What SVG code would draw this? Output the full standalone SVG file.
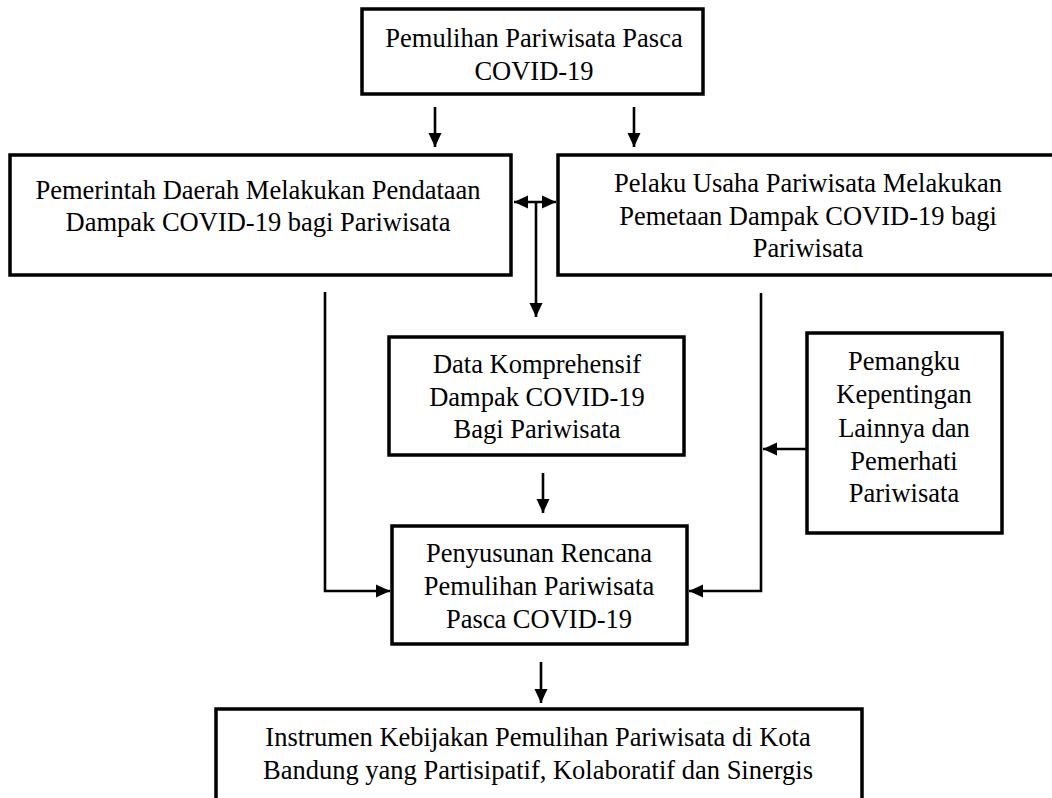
<svg xmlns="http://www.w3.org/2000/svg" width="1052" height="798" viewBox="0 0 1052 798">
<defs>
<marker id="ah" markerUnits="userSpaceOnUse" markerWidth="15" markerHeight="14" refX="14" refY="7" orient="auto-start-reverse">
<path d="M0,0.5 L14,7 L0,13.5 z" fill="#000"/>
</marker>
<style>
.box{fill:#fff;stroke:#000;stroke-width:3.5}
.t{font-family:"Liberation Serif","Times New Roman",serif;font-size:26.5px;fill:#000;text-anchor:middle}
.c{fill:none;stroke:#000;stroke-width:2.6;marker-end:url(#ah)}
.p{fill:none;stroke:#000;stroke-width:2.6}
</style>
</defs>
<rect width="1052" height="798" fill="#fff"/>
<g id="connectors">
<line class="c" x1="435" y1="107" x2="435" y2="147"/>
<line class="c" x1="634" y1="107" x2="634" y2="147"/>
<line class="c" x1="514" y1="202" x2="556" y2="202" style="marker-start:url(#ah)"/>
<line class="c" x1="536" y1="202" x2="536" y2="317"/>
<line class="c" x1="543" y1="473" x2="543" y2="513"/>
<polyline class="c" points="325,292 325,591 390,591"/>
<polyline class="c" points="761,293 761,591 689,591"/>
<line class="c" x1="807" y1="449" x2="763" y2="449"/>
<line class="c" x1="541" y1="662" x2="541" y2="703"/>
</g>
<g id="n-top">
<rect class="box" x="362" y="9" width="341" height="85"/>
<text class="t" x="534" y="47">Pemulihan Pariwisata Pasca</text>
<text class="t" x="534" y="80">COVID-19</text>
</g>
<g id="n-pemda">
<rect class="box" x="10" y="155" width="501" height="120"/>
<text class="t" x="258" y="199">Pemerintah Daerah Melakukan Pendataan</text>
<text class="t" x="258" y="231">Dampak COVID-19 bagi Pariwisata</text>
</g>
<g id="n-pelaku">
<rect class="box" x="558" y="155" width="500" height="120"/>
<text class="t" x="808" y="192">Pelaku Usaha Pariwisata Melakukan</text>
<text class="t" x="808" y="225">Pemetaan Dampak COVID-19 bagi</text>
<text class="t" x="808" y="257">Pariwisata</text>
</g>
<g id="n-data">
<rect class="box" x="389" y="337" width="295" height="118"/>
<text class="t" x="537" y="373">Data Komprehensif</text>
<text class="t" x="537" y="406">Dampak COVID-19</text>
<text class="t" x="537" y="438">Bagi Pariwisata</text>
</g>
<g id="n-pemangku">
<rect class="box" x="807" y="333" width="195" height="200"/>
<text class="t" x="904" y="370">Pemangku</text>
<text class="t" x="904" y="403">Kepentingan</text>
<text class="t" x="904" y="437">Lainnya dan</text>
<text class="t" x="904" y="470">Pemerhati</text>
<text class="t" x="904" y="502">Pariwisata</text>
</g>
<g id="n-penyusunan">
<rect class="box" x="392" y="526" width="295" height="118"/>
<text class="t" x="539" y="562">Penyusunan Rencana</text>
<text class="t" x="539" y="595">Pemulihan Pariwisata</text>
<text class="t" x="539" y="628">Pasca COVID-19</text>
</g>
<g id="n-instrumen">
<rect class="box" x="216" y="709" width="646" height="120"/>
<text class="t" x="538" y="746">Instrumen Kebijakan Pemulihan Pariwisata di Kota</text>
<text class="t" x="538" y="779">Bandung yang Partisipatif, Kolaboratif dan Sinergis</text>
</g>
</svg>
